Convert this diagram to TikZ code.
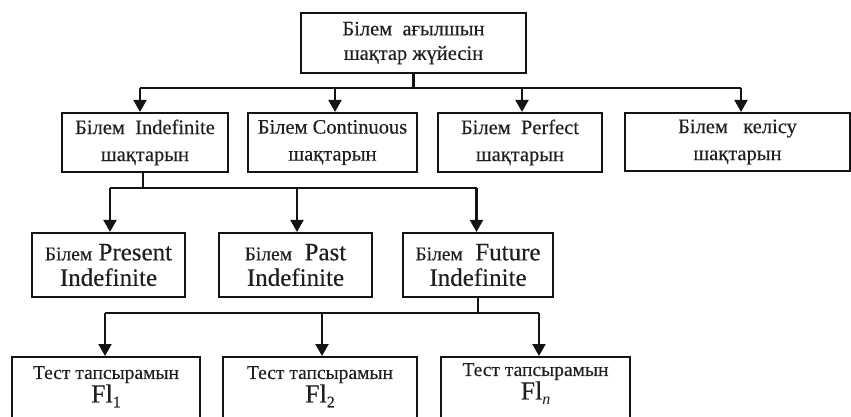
\documentclass[tikz,border=0pt]{standalone}
\usepackage{fontspec}
% regular serif, with a slightly heavier printed weight for the labels
\setmainfont{Liberation Serif}[BoldFont={Liberation Serif}, BoldFeatures={FakeBold=0.3}]
\usetikzlibrary{arrows.meta}
% subscript set in the text font
\newcommand{\lowidx}[1]{\raisebox{-0.4ex}{\fontsize{16}{16}\selectfont #1}}
\begin{document}
\begin{tikzpicture}[x=1pt,y=-1pt,
  ink/.style={draw=black!92, line width=2.1pt},
  box/.style={ink, rectangle, inner sep=0pt, align=center, text=black!88},
  wire/.style={ink},
  arr/.style={ink, -{Triangle[length=12pt,width=13pt]}},
  big/.style={font=\fontsize{20.5}{24.5}\selectfont\bfseries},
  mid/.style={font=\fontsize{20.5}{27}\selectfont\bfseries},
  eng/.style={font=\fontsize{25}{25.5}\selectfont\bfseries},
  tst/.style={align=center, inner sep=0pt, text=black!88, font=\fontsize{19.5}{23.5}\selectfont\bfseries}
]
\useasboundingbox (0,0) rectangle (851,416);
\clip (0,0) rectangle (851,416);

% root
\node[box, big, minimum width=225pt, minimum height=60pt] (top) at (413.5,43)
  {Білем\enspace ағылшын\\шақтар жүйесін};

% tense groups
\node[box, mid, minimum width=166pt, minimum height=59pt] (ind) at (145,142.5)
  {Білем\enspace Indefinite\\шақтарын};
\node[box, mid, minimum width=169pt, minimum height=59pt] (con) at (332.5,142.5)
  {Білем Continuous\\шақтарын};
\node[box, mid, minimum width=164pt, minimum height=59pt] (per) at (520,142.5)
  {Білем\enspace Perfect\\шақтарын};
\node[box, mid, minimum width=225pt, minimum height=58pt] (kel) at (737.5,142)
  {Білем\enspace\ келісу\\шақтарын};

% indefinite tenses
\node[box, eng, minimum width=153pt, minimum height=64pt] (pres) at (108.5,265)
  {{\fontsize{19.5}{25}\selectfont Білем} Present\\Indefinite};
\node[box, eng, minimum width=153pt, minimum height=64pt] (past) at (295.5,265)
  {{\fontsize{19.5}{25}\selectfont Білем}\enspace Past\\Indefinite};
\node[box, eng, minimum width=150pt, minimum height=64pt] (fut) at (478,265)
  {{\fontsize{19.5}{25}\selectfont Білем}\enspace Future\\Indefinite};

% test tasks
\node[box, minimum width=188pt, minimum height=94pt, anchor=north] (fa) at (106,356) {};
\node[box, minimum width=194pt, minimum height=94pt, anchor=north] (fb) at (320,356) {};
\node[box, minimum width=189pt, minimum height=94pt, anchor=north] (fc) at (535.5,356) {};
\node[tst, anchor=north] (fat) at (106,366)
  {Тест тапсырамын\\{\fontsize{26}{24}\selectfont Fl\lowidx{1}}};
\node[tst, anchor=north] (fbt) at (320,366)
  {Тест тапсырамын\\{\fontsize{26}{24}\selectfont Fl\lowidx{2}}};
\node[tst, anchor=north] (fct) at (535.5,363)
  {Тест тапсырамын\\{\fontsize{26}{24}\selectfont Fl\lowidx{\textit{n}}}};

% bus lines
\coordinate (b1) at (0,88);
\coordinate (b2) at (0,188);
\coordinate (b3) at (0,313);

\draw[wire] (top.south) -- (top.south |- b1);
\draw[wire] ([xshift=-5pt]ind.north |- b1) -- ([xshift=3.5pt]kel.north |- b1);
\draw[arr] ([xshift=-5pt]ind.north |- b1) -- ([xshift=-5pt]ind.north);
\draw[arr] ([xshift=2.5pt]con.north |- b1) -- ([xshift=2.5pt]con.north);
\draw[arr] ([xshift=2pt]per.north |- b1) -- ([xshift=2pt]per.north);
\draw[arr] ([xshift=3.5pt]kel.north |- b1) -- ([xshift=3.5pt]kel.north);

\draw[wire] ([xshift=-2pt]ind.south) -- ([xshift=-2pt]ind.south |- b2);
\draw[wire] ([xshift=1.5pt]pres.north |- b2) -- ([xshift=-1.5pt]fut.north |- b2);
\draw[arr] ([xshift=1.5pt]pres.north |- b2) -- ([xshift=1.5pt]pres.north);
\draw[arr] ([xshift=1.5pt]past.north |- b2) -- ([xshift=1.5pt]past.north);
\draw[arr] ([xshift=-1.5pt]fut.north |- b2) -- ([xshift=-1.5pt]fut.north);

\draw[wire] (fut.south) -- (fut.south |- b3);
\draw[wire] ([xshift=-1pt]fa.north |- b3) -- ([xshift=3.5pt]fc.north |- b3);
\draw[arr] ([xshift=-1pt]fa.north |- b3) -- ([xshift=-1pt]fa.north);
\draw[arr] ([xshift=2pt]fb.north |- b3) -- ([xshift=2pt]fb.north);
\draw[arr] ([xshift=3.5pt]fc.north |- b3) -- ([xshift=3.5pt]fc.north);
\end{tikzpicture}
\end{document}
